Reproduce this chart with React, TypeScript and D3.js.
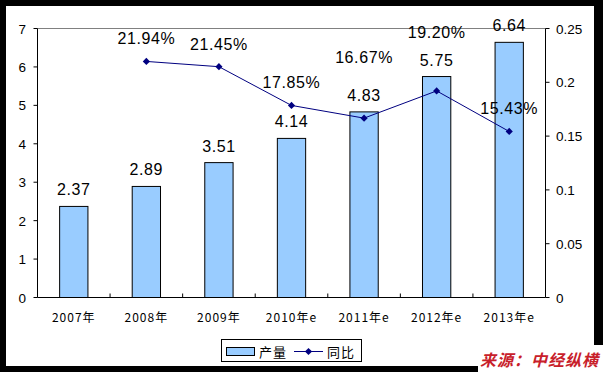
import React from "react";
import { scaleBand, scaleLinear, line } from "d3";

const years = ["2007年", "2008年", "2009年", "2010年e", "2011年e", "2012年e", "2013年e"];
const output = [2.37, 2.89, 3.51, 4.14, 4.83, 5.75, 6.64];
const growth: (number | null)[] = [null, 0.2194, 0.2145, 0.1785, 0.1667, 0.192, 0.1543];
const growthLabels = ["", "21.94%", "21.45%", "17.85%", "16.67%", "19.20%", "15.43%"];
const leftTicks = [0, 1, 2, 3, 4, 5, 6, 7];
const rightTicks = [0, 0.05, 0.1, 0.15, 0.2, 0.25];
const rightTickLabels = ["0", "0.05", "0.1", "0.15", "0.2", "0.25"];

const W = 603;
const H = 372;
const left = 37.5;
const right = 545.5;
const top = 28.5;
const bottom = 297.5;
const latin = "'Liberation Sans', Arial, 'Noto Sans CJK SC', sans-serif";
const cjk = "'Noto Sans CJK SC', 'Liberation Sans', sans-serif";
// growth labels that were moved up to clear the bar labels
const liftedLabel: Record<string, number> = { "2011年e": 55, "2012年e": 53 };

export default function App() {
    const x = scaleBand<string>().domain(years).range([left, right]).padding(0);
    const yL = scaleLinear().domain([0, 7]).range([bottom, top]);
    const yR = scaleLinear().domain([0, 0.25]).range([bottom, top]);
    const bw = x.bandwidth();
    const barW = bw * 0.39;
    const cx = (d: string) => (x(d) || 0) + bw / 2;

    const pts = years
        .map((d, i) => ({ d, v: growth[i], label: growthLabels[i] }))
        .filter((p) => p.v !== null) as { d: string; v: number; label: string }[];
    const path = line<{ d: string; v: number }>()
        .x((p) => cx(p.d))
        .y((p) => yR(p.v))(pts);

    const diamond = (px: number, py: number, r = 3.6) =>
        `M${px},${py - r}L${px + r},${py}L${px},${py + r}L${px - r},${py}Z`;

    return (
        <svg
            width={W}
            height={H}
            style={{ position: "absolute", left: 0, top: 0 }}
        >
            <rect x={0} y={0} width={W} height={H} fill="#000" />
            <rect x={6} y={6} width={588} height={360} fill="#fff" />

            {/* plot frame top */}
            <line x1={left} x2={right} y1={top} y2={top} stroke="#808080" />

            {/* bars */}
            {years.map((d, i) => (
                <g key={d}>
                    <rect
                        x={cx(d) - barW / 2}
                        y={yL(output[i])}
                        width={barW}
                        height={bottom - yL(output[i])}
                        fill="#99CCFF"
                        stroke="#000"
                        strokeWidth={1}
                    />
                    <text
                        x={cx(d)}
                        y={yL(output[i]) - 11}
                        textAnchor="middle"
                        fontFamily={latin}
                        fontSize={16}
                        letterSpacing={0.6}
                        fill="#000"
                    >
                        {output[i].toFixed(2)}
                    </text>
                </g>
            ))}

            {/* line series */}
            <path d={path || ""} fill="none" stroke="#000080" strokeWidth={1} />
            {pts.map((p) => (
                <g key={p.d}>
                    <path d={diamond(cx(p.d), yR(p.v))} fill="#000080" />
                    <text
                        x={cx(p.d)}
                        y={yR(p.v) - (liftedLabel[p.d] ?? 17)}
                        textAnchor="middle"
                        fontFamily={latin}
                        fontSize={16}
                        letterSpacing={0.6}
                        fill="#000"
                    >
                        {p.label}
                    </text>
                </g>
            ))}

            {/* left axis */}
            <line x1={left} x2={left} y1={top} y2={bottom} stroke="#000" />
            {leftTicks.map((t) => (
                <g key={t}>
                    <line x1={left - 4} x2={left} y1={yL(t)} y2={yL(t)} stroke="#000" />
                    <text
                        x={26}
                        y={yL(t) + 5}
                        textAnchor="end"
                        fontFamily={latin}
                        fontSize={13.5}
                        fill="#000"
                    >
                        {t}
                    </text>
                </g>
            ))}

            {/* right axis */}
            <line x1={right} x2={right} y1={top} y2={bottom} stroke="#000" />
            {rightTicks.map((t, i) => (
                <g key={t}>
                    <line x1={right} x2={right + 4} y1={yR(t)} y2={yR(t)} stroke="#000" />
                    <text
                        x={556}
                        y={yR(t) + 5}
                        textAnchor="start"
                        fontFamily={latin}
                        fontSize={13.5}
                        fill="#000"
                    >
                        {rightTickLabels[i]}
                    </text>
                </g>
            ))}

            {/* bottom axis */}
            <line x1={left} x2={right} y1={bottom} y2={bottom} stroke="#000" />
            {years.slice(1).map((d) => (
                <line key={d} x1={x(d)} x2={x(d)} y1={bottom - 4} y2={bottom} stroke="#000" />
            ))}
            {years.map((d) => (
                <text
                    key={d}
                    x={cx(d)}
                    y={322}
                    textAnchor="middle"
                    fontFamily={cjk}
                    fontSize={12}
                    letterSpacing={1}
                    fill="#000"
                >
                    {d}
                </text>
            ))}

            {/* legend */}
            <rect x={221.5} y={339.5} width={140} height={22} fill="#fff" stroke="#000" />
            <rect x={226.5} y={347.5} width={28} height={8} fill="#99CCFF" stroke="#000" />
            <text x={259} y={357} fontFamily={cjk} fontSize={13} letterSpacing={1} fill="#000">
                产量
            </text>
            <line x1={294} x2={323} y1={351.5} y2={351.5} stroke="#000080" />
            <path d={diamond(308.5, 351.5)} fill="#000080" />
            <text x={327} y={357} fontFamily={cjk} fontSize={13} letterSpacing={1} fill="#000">
                同比
            </text>

            {/* source */}
            <rect x={478} y={345} width={125} height={27} fill="#fff" />
            <text
                x={480}
                y={366}
                fontFamily={cjk}
                fontSize={16}
                fontWeight="bold"
                fontStyle="italic"
                letterSpacing={1}
                fill="#C8202A"
            >
                来源：中经纵横
            </text>
        </svg>
    );
}
